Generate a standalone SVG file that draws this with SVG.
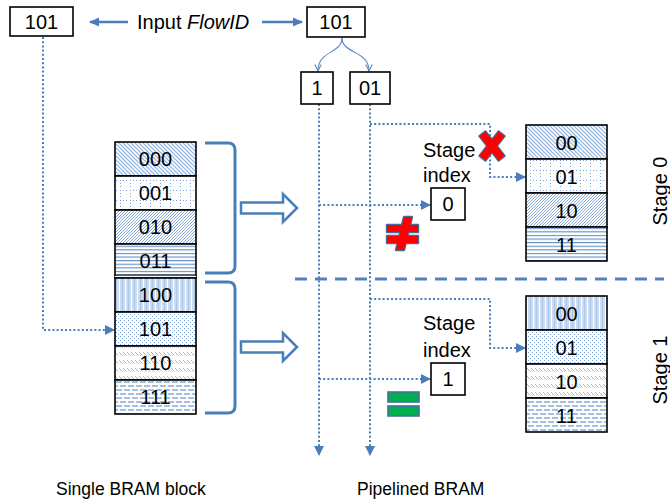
<svg xmlns="http://www.w3.org/2000/svg" width="670" height="504" viewBox="0 0 670 504">
  <style>
    text { font-family: "Liberation Sans", Arial, sans-serif; fill: #000; }
    .lbl { font-size: 20px; }
    .cap { font-size: 17.5px; }
    .cell { font-size: 20px; text-anchor: middle; }
    .box { fill: #fff; stroke: #000; stroke-width: 1.6; }
    .row { stroke: #000; stroke-width: 1.6; }
    .dot { fill: none; stroke: #4a7ebb; stroke-width: 2; stroke-dasharray: 2 2.2; }
    .solid { fill: none; stroke: #4a7ebb; stroke-width: 2.5; }
    .thin { fill: none; stroke: #5b8bc8; stroke-width: 1.1; }
    .brace { fill: none; stroke: #4a7ebb; stroke-width: 3; }
    .hollow { fill: #fff; stroke: #4a7ebb; stroke-width: 2.5; stroke-linejoin: miter; }
  </style>
  <defs>
    <marker id="tri" viewBox="0 0 10 10" refX="9" refY="5" markerWidth="10" markerHeight="10" markerUnits="userSpaceOnUse" orient="auto">
      <path d="M0,0 L10,5 L0,10 z" fill="#4a7ebb"/>
    </marker>
    <marker id="triBig" viewBox="0 0 10 10" refX="9" refY="5" markerWidth="12" markerHeight="10" markerUnits="userSpaceOnUse" orient="auto">
      <path d="M0,0.5 L10,5 L0,9.5 z" fill="#4a7ebb"/>
    </marker>
    <marker id="vee" viewBox="0 0 10 10" refX="9" refY="5" markerWidth="8" markerHeight="8" markerUnits="userSpaceOnUse" orient="auto">
      <path d="M1,1 L9,5 L1,9" fill="none" stroke="#5b8bc8" stroke-width="1.4"/>
    </marker>

    <!-- fill patterns for the memory rows -->
    <pattern id="pDiagDown" patternUnits="userSpaceOnUse" width="4" height="4">
      <rect width="4" height="4" fill="#fff"/>
      <path d="M0,0 L4,4 M-1,3 L1,5 M3,-1 L5,1" stroke="#8fb1dd" stroke-width="1.2"/>
    </pattern>
    <pattern id="pDotGrid" patternUnits="userSpaceOnUse" width="10" height="10">
      <rect width="10" height="10" fill="#fff"/>
      <g fill="#7ea2d4">
        <rect x="0" y="0" width="1" height="1"/><rect x="0" y="3" width="1" height="1"/>
        <rect x="0" y="6" width="1" height="1"/>
        <rect x="3" y="0" width="1" height="1"/><rect x="6" y="0" width="1" height="1"/>
      </g>
    </pattern>
    <pattern id="pDiagUp" patternUnits="userSpaceOnUse" width="3" height="3">
      <rect width="3" height="3" fill="#fff"/>
      <path d="M0,3 L3,0 M-1,1 L1,-1 M2,4 L4,2" stroke="#86a9d8" stroke-width="1"/>
    </pattern>
    <pattern id="pHoriz" patternUnits="userSpaceOnUse" width="4" height="3.6">
      <rect width="4" height="3.6" fill="#fff"/>
      <path d="M0,1.5 H4" stroke="#4f81bd" stroke-width="1"/>
    </pattern>
    <pattern id="pVert" patternUnits="userSpaceOnUse" width="6" height="4">
      <rect width="6" height="4" fill="#fff"/>
      <path d="M1,0 V4 M4,0 V4" stroke="#a3c0e4" stroke-width="1.1"/>
      <path d="M2.5,0 V4" stroke="#5b8bc8" stroke-width="0.5"/>
    </pattern>
    <pattern id="pSmallDot" patternUnits="userSpaceOnUse" width="4" height="4">
      <rect width="4" height="4" fill="#fff"/>
      <rect x="0" y="0" width="1" height="1" fill="#7ea2d4"/>
      <rect x="2" y="2" width="1" height="1" fill="#7ea2d4"/>
    </pattern>
    <pattern id="pWave" patternUnits="userSpaceOnUse" width="4" height="8">
      <rect width="4" height="8" fill="#fff"/>
      <path d="M0,1 L2.5,3.5 M-2,1 L0.5,3.5 M2,-1 L4.5,1.5" stroke="#9dbbe2" stroke-width="1"/>
    </pattern>
    <pattern id="pDashH" patternUnits="userSpaceOnUse" width="16" height="8">
      <rect width="16" height="8" fill="#fff"/>
      <path d="M0,2 H6 M8,2 H14 M4,6 H10 M12,6 H16 M0,6 H2" stroke="#4f81bd" stroke-width="1"/>
    </pattern>
  </defs>

  <!-- connectors -->
  <g id="connectors">
    <!-- input FlowID arrows -->
    <line class="solid" x1="128" y1="22" x2="90" y2="22" marker-end="url(#triBig)"/>
    <line class="solid" x1="262" y1="22" x2="302" y2="22" marker-end="url(#triBig)"/>
    <!-- split of the FlowID into stage bits -->
    <path class="thin" d="M342,38 C342,54 318,50 318,71" marker-end="url(#vee)"/>
    <path class="thin" d="M342,38 C342,54 369,50 369,71" marker-end="url(#vee)"/>
    <!-- single block lookup -->
    <path class="dot" d="M43,37 V330 H114" marker-end="url(#tri)"/>
    <!-- bit lanes -->
    <path class="dot" d="M319,104 V455" marker-end="url(#tri)"/>
    <path class="dot" d="M370,104 V455" marker-end="url(#tri)"/>
    <!-- stage 0 -->
    <path class="dot" d="M319,205 H430" marker-end="url(#tri)"/>
    <path class="dot" d="M370,124 H490 V177 H525" marker-end="url(#tri)"/>
    <!-- stage 1 -->
    <path class="dot" d="M319,379 H430" marker-end="url(#tri)"/>
    <path class="dot" d="M370,299 H490 V348 H525" marker-end="url(#tri)"/>
    <!-- stage separator -->
    <line x1="295" y1="279" x2="664" y2="279" stroke="#4f81bd" stroke-width="3" stroke-dasharray="12 8"/>
  </g>

  <!-- top row -->
  <g id="flowid-left">
    <rect class="box" x="10" y="7" width="63" height="29"/>
    <text class="lbl" x="41.5" y="29" text-anchor="middle">101</text>
  </g>
  <g id="input-label">
    <text class="lbl" x="137" y="29">Input <tspan font-style="italic">FlowID</tspan></text>
  </g>
  <g id="flowid-right">
    <rect class="box" x="307" y="7" width="58" height="30"/>
    <text class="lbl" x="336" y="29" text-anchor="middle">101</text>
  </g>
  <g id="bit-1">
    <rect class="box" x="301" y="72" width="32" height="32"/>
    <text class="lbl" x="317" y="95" text-anchor="middle">1</text>
  </g>
  <g id="bits-01">
    <rect class="box" x="350" y="72" width="40" height="32"/>
    <text class="lbl" x="370" y="95" text-anchor="middle">01</text>
  </g>

  <!-- single BRAM block -->
  <g id="single-bram">
    <rect class="row" x="115" y="142" width="81" height="34" fill="url(#pDiagDown)"/>
    <rect class="row" x="115" y="176" width="81" height="34" fill="url(#pDotGrid)"/>
    <rect class="row" x="115" y="210" width="81" height="34" fill="url(#pDiagUp)"/>
    <rect class="row" x="115" y="244" width="81" height="34" fill="url(#pHoriz)"/>
    <rect class="row" x="115" y="278" width="81" height="34" fill="url(#pVert)"/>
    <rect class="row" x="115" y="312" width="81" height="34" fill="url(#pSmallDot)"/>
    <rect class="row" x="115" y="346" width="81" height="34" fill="url(#pWave)"/>
    <rect class="row" x="115" y="380" width="81" height="34" fill="url(#pDashH)"/>
    <line x1="115" y1="276.5" x2="196" y2="276.5" stroke="#fff" stroke-width="1.2"/>
    <line x1="115" y1="275" x2="196" y2="275" stroke="#000" stroke-width="1.2"/>
    <text class="cell" x="155.5" y="166">000</text>
    <text class="cell" x="155.5" y="200">001</text>
    <text class="cell" x="155.5" y="234">010</text>
    <text class="cell" x="155.5" y="268">011</text>
    <text class="cell" x="155.5" y="302">100</text>
    <text class="cell" x="155.5" y="336">101</text>
    <text class="cell" x="155.5" y="370">110</text>
    <text class="cell" x="155.5" y="404">111</text>
  </g>

  <!-- brackets and split arrows -->
  <g id="bracket-upper">
    <path class="brace" d="M205,143 H228 Q235,143 235,150 V266 Q235,273 228,273 H205"/>
  </g>
  <g id="bracket-lower">
    <path class="brace" d="M205,282 H228 Q235,282 235,289 V406 Q235,413 228,413 H205"/>
  </g>
  <g id="arrow-upper">
    <path class="hollow" d="M241,202.5 H283 V194 L297,208 L283,222 V213.5 H241 Z"/>
  </g>
  <g id="arrow-lower">
    <path class="hollow" d="M241,341.5 H283 V333 L297,347 L283,361 V352.5 H241 Z"/>
  </g>

  <!-- stage 0 -->
  <g id="stage0-index">
    <text class="lbl" x="423" y="157">Stage</text>
    <text class="lbl" x="423" y="182">index</text>
    <rect class="box" x="431" y="188" width="34" height="32"/>
    <text class="lbl" x="448" y="211" text-anchor="middle">0</text>
  </g>
  <g id="mismatch">
    <g fill="none" stroke="#4a6a9a" stroke-width="2.4" stroke-linejoin="round">
      <rect x="387" y="225" width="31" height="7"/>
      <rect x="387" y="236" width="31" height="7"/>
      <polygon points="404,217 412,217 404,250 396,250"/>
    </g>
    <g fill="#ff0000">
      <rect x="387" y="225" width="31" height="7"/>
      <rect x="387" y="236" width="31" height="7"/>
      <polygon points="404,217 412,217 404,250 396,250"/>
    </g>
  </g>
  <g id="miss-cross">
    <g transform="translate(492,146)">
      <g fill="none" stroke="#4a6a9a" stroke-width="2.4" stroke-linejoin="round">
        <rect x="-3.8" y="-15.5" width="7.6" height="31" transform="rotate(38)"/>
        <rect x="-3.8" y="-15.5" width="7.6" height="31" transform="rotate(-38)"/>
      </g>
      <g fill="#ff0000">
        <rect x="-3.8" y="-15.5" width="7.6" height="31" transform="rotate(38)"/>
        <rect x="-3.8" y="-15.5" width="7.6" height="31" transform="rotate(-38)"/>
      </g>
    </g>
  </g>
  <g id="stage0-bram">
    <rect class="row" x="526" y="125" width="81" height="34" fill="url(#pDiagDown)"/>
    <rect class="row" x="526" y="159" width="81" height="34" fill="url(#pDotGrid)"/>
    <rect class="row" x="526" y="193" width="81" height="34" fill="url(#pDiagUp)"/>
    <rect class="row" x="526" y="227" width="81" height="34" fill="url(#pHoriz)"/>
    <text class="cell" x="566.5" y="150">00</text>
    <text class="cell" x="566.5" y="184">01</text>
    <text class="cell" x="566.5" y="218">10</text>
    <text class="cell" x="566.5" y="252">11</text>
  </g>
  <g id="stage0-label">
    <text class="lbl" transform="translate(667,191) rotate(-90)" text-anchor="middle">Stage 0</text>
  </g>

  <!-- stage 1 -->
  <g id="stage1-index">
    <text class="lbl" x="423" y="330">Stage</text>
    <text class="lbl" x="423" y="357">index</text>
    <rect class="box" x="431" y="363" width="34" height="32"/>
    <text class="lbl" x="448" y="386" text-anchor="middle">1</text>
  </g>
  <g id="match">
    <rect x="388" y="392" width="31" height="10" fill="#00b050" stroke="#41719c" stroke-width="1.6"/>
    <rect x="388" y="406" width="31" height="10" fill="#00b050" stroke="#41719c" stroke-width="1.6"/>
  </g>
  <g id="stage1-bram">
    <rect class="row" x="526" y="296" width="81" height="34" fill="url(#pVert)"/>
    <rect class="row" x="526" y="330" width="81" height="34" fill="url(#pSmallDot)"/>
    <rect class="row" x="526" y="364" width="81" height="34" fill="url(#pWave)"/>
    <rect class="row" x="526" y="398" width="81" height="34" fill="url(#pDashH)"/>
    <text class="cell" x="566.5" y="321">00</text>
    <text class="cell" x="566.5" y="355">01</text>
    <text class="cell" x="566.5" y="389">10</text>
    <text class="cell" x="566.5" y="423">11</text>
  </g>
  <g id="stage1-label">
    <text class="lbl" transform="translate(667,370) rotate(-90)" text-anchor="middle">Stage 1</text>
  </g>

  <!-- captions -->
  <g id="caption-single">
    <text class="cap" x="56" y="495">Single BRAM block</text>
  </g>
  <g id="caption-pipelined">
    <text class="cap" x="357" y="495">Pipelined BRAM</text>
  </g>
</svg>
